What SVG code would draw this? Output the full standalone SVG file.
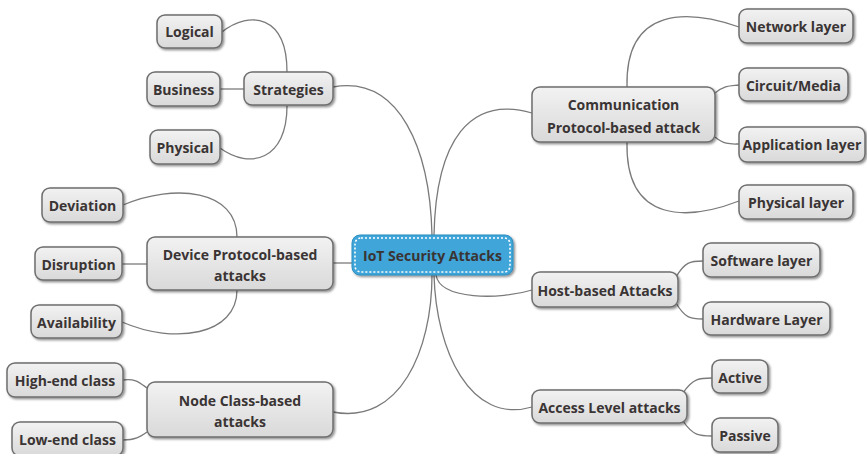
<svg xmlns="http://www.w3.org/2000/svg" width="867" height="454" viewBox="0 0 867 454">
  <defs>
    <linearGradient id="nodeFill" x1="0" y1="0" x2="0" y2="1">
      <stop offset="0" stop-color="#f2f2f2"/>
      <stop offset="1" stop-color="#d9d9d9"/>
    </linearGradient>
    <filter id="shadow" x="-10%" y="-20%" width="130%" height="160%">
      <feDropShadow dx="1.5" dy="1.5" stdDeviation="1" flood-color="#000" flood-opacity="0.45"/>
    </filter>
  </defs>
  <style>
    .node rect { fill: url(#nodeFill); stroke: #6e6e6e; stroke-width: 1.5; filter: url(#shadow); }
    .node text, .root text { font-family: "Open Sans", "Noto Sans", sans-serif; font-weight: bold; font-size: 14px; fill: #3a3434; text-anchor: middle; dominant-baseline: central; }
    .links path { fill: none; stroke: #7a7a7a; stroke-width: 1.3; }
    .root .body { fill: #3fa5d8; stroke: #2f8fc0; stroke-width: 1; filter: url(#shadow); }
    .root .dots { fill: none; stroke: #ffffff; stroke-width: 1.6; stroke-dasharray: 2 2; }
  </style>
  <rect width="867" height="454" fill="#ffffff"/>

  <g id="links" class="links">
    <path d="M222,32 C250,10 287,15 287,72"/>
    <path d="M220,89 L244,89"/>
    <path d="M220,148 C250,170 287,160 287,106"/>
    <path d="M333,87 C400,75 430,150 432,235"/>
    <path d="M532,113 C470,95 436,140 434,235"/>
    <path d="M627,87 C625,5 690,10 739,27"/>
    <path d="M715,93 C725,85 730,86 739,85"/>
    <path d="M715,137 C725,145 730,144 739,144"/>
    <path d="M627,142 C625,225 690,220 739,201"/>
    <path d="M123,205 C175,183 237,190 237,237"/>
    <path d="M122,264 L147,264"/>
    <path d="M122,322 C175,345 237,335 237,290"/>
    <path d="M333,263 L352,263"/>
    <path d="M123,380 C135,378 140,383 147,388"/>
    <path d="M123,440 C135,440 140,437 147,432"/>
    <path d="M333,412 C400,425 432,350 432,275"/>
    <path d="M436,275 C440,300 500,300 532,290"/>
    <path d="M676,277 C685,262 690,261 703,261"/>
    <path d="M676,303 C685,318 690,319 703,319"/>
    <path d="M532,407 C470,425 436,350 434,275"/>
    <path d="M683,393 C693,378 700,378 712,378"/>
    <path d="M683,421 C693,436 700,436 712,436"/>
  </g>

  <g id="root" class="root">
    <rect class="body" x="352" y="235" width="161" height="40" rx="8"/>
    <rect class="dots" x="355" y="238" width="155" height="34" rx="6"/>
    <text x="432.5" y="255">IoT Security Attacks</text>
  </g>

  <g id="strategies" class="node"><rect x="244" y="72" width="89" height="33" rx="8"/><text x="288.5" y="89">Strategies</text></g>
  <g id="logical" class="node"><rect x="157" y="15" width="65" height="33" rx="8"/><text x="189.5" y="31">Logical</text></g>
  <g id="business" class="node"><rect x="147" y="72" width="73" height="34" rx="8"/><text x="183.5" y="89">Business</text></g>
  <g id="physical" class="node"><rect x="150" y="130" width="70" height="34" rx="8"/><text x="185" y="147">Physical</text></g>

  <g id="communication" class="node"><rect x="532" y="87" width="183" height="55" rx="8"/><text x="623.5" y="104">Communication</text><text x="623.5" y="127">Protocol-based attack</text></g>
  <g id="network-layer" class="node"><rect x="739" y="9" width="114" height="34" rx="8"/><text x="796" y="26">Network layer</text></g>
  <g id="circuit-media" class="node"><rect x="739" y="68" width="109" height="33" rx="8"/><text x="793.5" y="85">Circuit/Media</text></g>
  <g id="application-layer" class="node"><rect x="739" y="127" width="126" height="35" rx="8"/><text x="802" y="144">Application layer</text></g>
  <g id="physical-layer" class="node"><rect x="739" y="185" width="114" height="34" rx="8"/><text x="796" y="202">Physical layer</text></g>

  <g id="device-protocol" class="node"><rect x="147" y="237" width="186" height="53" rx="8"/><text x="240" y="254">Device Protocol-based</text><text x="240" y="275">attacks</text></g>
  <g id="deviation" class="node"><rect x="42" y="188" width="81" height="34" rx="8"/><text x="82.5" y="205">Deviation</text></g>
  <g id="disruption" class="node"><rect x="35" y="247" width="87" height="33" rx="8"/><text x="78.5" y="264">Disruption</text></g>
  <g id="availability" class="node"><rect x="31" y="305" width="91" height="33" rx="8"/><text x="76.5" y="322">Availability</text></g>

  <g id="node-class" class="node"><rect x="147" y="382" width="186" height="55" rx="8"/><text x="240" y="400">Node Class-based</text><text x="240" y="421">attacks</text></g>
  <g id="high-end" class="node"><rect x="7" y="363" width="116" height="34" rx="8"/><text x="65" y="380">High-end class</text></g>
  <g id="low-end" class="node"><rect x="12" y="422" width="111" height="34" rx="8"/><text x="67.5" y="439">Low-end class</text></g>

  <g id="host-based" class="node"><rect x="532" y="272" width="146" height="35" rx="8"/><text x="605" y="290">Host-based Attacks</text></g>
  <g id="software-layer" class="node"><rect x="703" y="243" width="117" height="34" rx="8"/><text x="761.5" y="260">Software layer</text></g>
  <g id="hardware-layer" class="node"><rect x="703" y="302" width="127" height="33" rx="8"/><text x="766.5" y="319">Hardware Layer</text></g>

  <g id="access-level" class="node"><rect x="532" y="390" width="155" height="33" rx="8"/><text x="609.5" y="407">Access Level attacks</text></g>
  <g id="active" class="node"><rect x="712" y="360" width="56" height="33" rx="8"/><text x="740" y="377">Active</text></g>
  <g id="passive" class="node"><rect x="712" y="418" width="66" height="34" rx="8"/><text x="745" y="435">Passive</text></g>
</svg>
